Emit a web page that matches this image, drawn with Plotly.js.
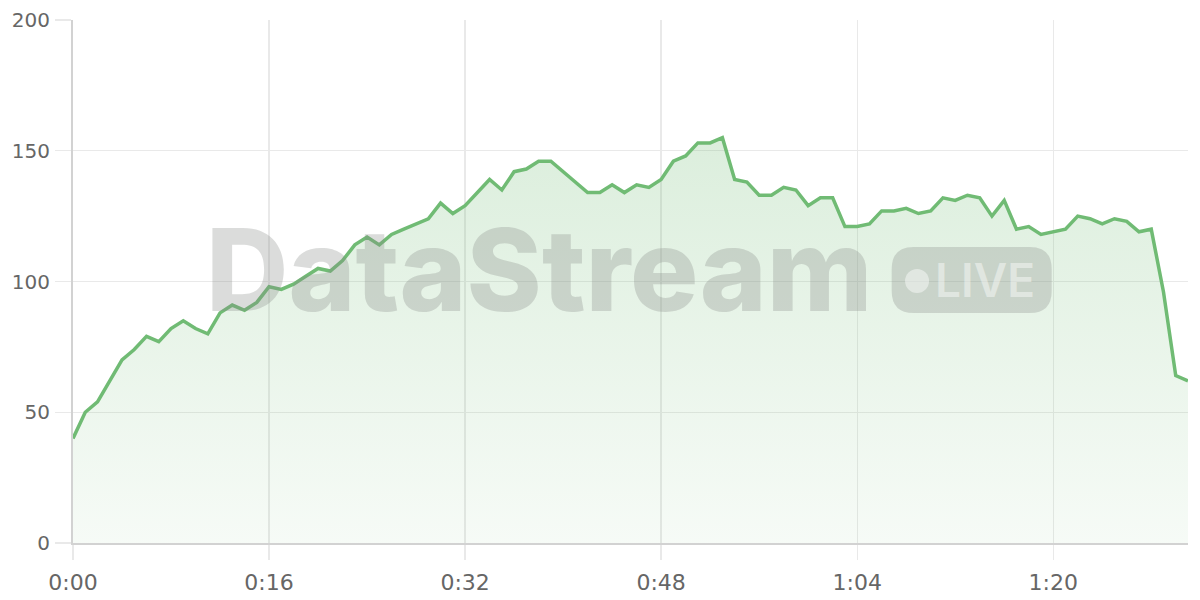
<!DOCTYPE html>
<html>
<head>
<meta charset="utf-8">
<script src="https://cdn.plot.ly/plotly-3.0.1.min.js"></script>
<style>
  html, body { margin: 0; padding: 0; background: #ffffff; }
  #chart { width: 1200px; height: 600px; }
</style>
</head>
<body>
<div id="chart"></div>
<script>
// elapsed time in minutes
var minutes = [
  0, 1, 2, 3, 4, 5, 6, 7, 8, 9,
  10, 11, 12, 13, 14, 15, 16, 17, 18, 19,
  20, 21, 22, 23, 24, 25, 26, 27, 28, 29,
  30, 31, 32, 33, 34, 35, 36, 37, 38, 39,
  40, 41, 42, 43, 44, 45, 46, 47, 48, 49,
  50, 51, 52, 53, 54, 55, 56, 57, 58, 59,
  60, 61, 62, 63, 64, 65, 66, 67, 68, 69,
  70, 71, 72, 73, 74, 75, 76, 77, 78, 79,
  80, 81, 82, 83, 84, 85, 86, 87, 88, 89,
  90, 91
];

// series values
var values = [
  40, 50, 54, 62, 70, 74, 79, 77, 82, 85,
  82, 80, 88, 91, 89, 92, 98, 97, 99, 102,
  105, 104, 108, 114, 117, 114, 118, 120, 122, 124,
  130, 126, 129, 134, 139, 135, 142, 143, 146, 146,
  142, 138, 134, 134, 137, 134, 137, 136, 139, 146,
  148, 153, 153, 155, 139, 138, 133, 133, 136, 135,
  129, 132, 132, 121, 121, 122, 127, 127, 128, 126,
  127, 132, 131, 133, 132, 125, 131, 120, 121, 118,
  119, 120, 125, 124, 122, 124, 123, 119, 120, 96,
  64, 62
];

// x tick positions and labels
var xTickValues = [0, 16, 32, 48, 64, 80];
var xTickLabels = ["0:00", "0:16", "0:32", "0:48", "1:04", "1:20"];

// y ticks
var yTickValues = [0, 50, 100, 150, 200];

var lineColor = "#70bb74";
var gridColor = "#e9e9e9";
var axisColor = "#d2d2d2";
var wmColor = "rgba(135,140,135,0.30)";
var wmLight = "rgba(255,255,255,0.45)";

var trace = {
  x: minutes,
  y: values,
  type: "scatter",
  mode: "lines",
  line: { color: lineColor, width: 3.5, shape: "linear" },
  fill: "tozeroy",
  fillgradient: {
    type: "vertical",
    colorscale: [
      [0, "rgba(108,185,112,0.06)"],
      [1, "rgba(108,185,112,0.24)"]
    ]
  },
  hoverinfo: "skip"
};

var pillPath = "M -58,-33 L 58,-33 Q 80,-33 80,-11 L 80,11 Q 80,33 58,33 " +
               "L -58,33 Q -80,33 -80,11 L -80,-11 Q -80,-33 -58,-33 Z";

var layout = {
  width: 1200,
  height: 600,
  margin: { l: 73, r: 12, t: 20, b: 57 },
  paper_bgcolor: "#ffffff",
  plot_bgcolor: "#ffffff",
  showlegend: false,
  font: { family: "'DejaVu Sans', sans-serif", color: "#666666" },
  xaxis: {
    range: [0, 91],
    tickmode: "array",
    tickvals: xTickValues,
    ticktext: xTickLabels,
    showgrid: true,
    gridcolor: gridColor,
    gridwidth: 1.3,
    zeroline: false,
    showline: true,
    linecolor: axisColor,
    linewidth: 2,
    ticks: "outside",
    ticklen: 15,
    tickwidth: 1.3,
    tickcolor: gridColor,
    ticklabelstandoff: 4,
    tickfont: { size: 22, color: "#666666" },
    fixedrange: true
  },
  yaxis: {
    range: [0, 200],
    tickmode: "array",
    tickvals: yTickValues,
    showgrid: true,
    gridcolor: gridColor,
    gridwidth: 1.3,
    zeroline: false,
    showline: true,
    linecolor: axisColor,
    linewidth: 2,
    ticks: "outside",
    ticklen: 16,
    tickwidth: 1.3,
    tickcolor: gridColor,
    ticklabelstandoff: 1,
    tickfont: { size: 20, color: "#666666" },
    fixedrange: true
  },
  shapes: [
    {
      type: "path",
      xref: "paper", yref: "paper",
      xsizemode: "pixel", ysizemode: "pixel",
      xanchor: 0.806, yanchor: 0.503,
      path: pillPath,
      fillcolor: wmColor,
      line: { width: 0 },
      layer: "above"
    },
    {
      type: "circle",
      xref: "paper", yref: "paper",
      xsizemode: "pixel", ysizemode: "pixel",
      xanchor: 0.757, yanchor: 0.501,
      x0: -12, x1: 12, y0: -12, y1: 12,
      fillcolor: wmLight,
      line: { width: 0 },
      layer: "above"
    }
  ],
  annotations: [
    {
      text: "DataStream",
      xref: "paper", yref: "paper",
      x: 0.418, y: 0.522,
      xanchor: "center", yanchor: "middle",
      showarrow: false,
      font: { family: "Inter, Roboto, sans-serif", size: 114, weight: 800, color: wmColor }
    },
    {
      text: "LIVE",
      xref: "paper", yref: "paper",
      x: 0.818, y: 0.503,
      xanchor: "center", yanchor: "middle",
      showarrow: false,
      font: { family: "Inter, Roboto, sans-serif", size: 46, weight: 600, color: wmLight }
    }
  ]
};

Plotly.newPlot("chart", [trace], layout, { displayModeBar: false, staticPlot: true });
</script>
</body>
</html>
